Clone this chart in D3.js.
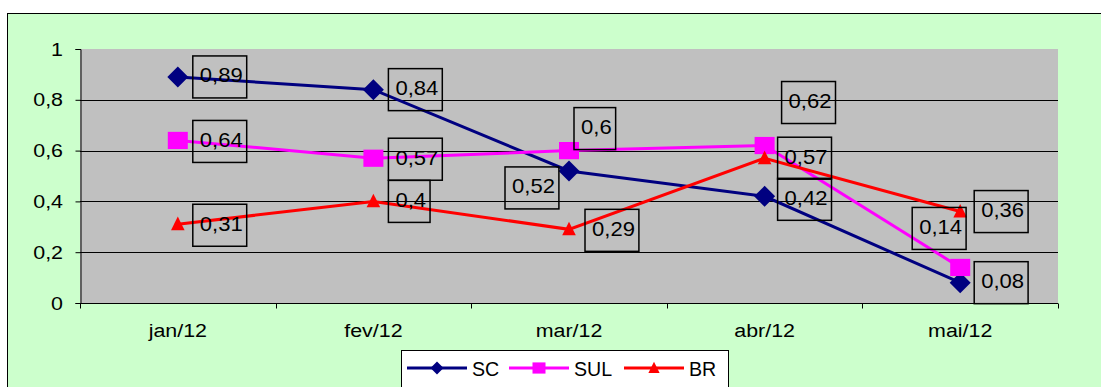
<!DOCTYPE html>
<html><head><meta charset="utf-8">
<script src="https://cdn.jsdelivr.net/npm/d3@7/dist/d3.min.js"></script>
<style>html,body{margin:0;padding:0;background:#fff;}svg{display:block;}</style>
</head><body>
<script>
const categories = ["jan/12","fev/12","mar/12","abr/12","mai/12"];
const scValues  = [0.89, 0.84, 0.52, 0.42, 0.08];
const sulValues = [0.64, 0.57, 0.60, 0.62, 0.14];
const brValues  = [0.31, 0.40, 0.29, 0.57, 0.36];
const yTicks = [0, 0.2, 0.4, 0.6, 0.8, 1];
const seriesNames = ["SC","SUL","BR"];
const seriesColors = ["#000080","#FF00FF","#FF0000"];
const seriesMarkers = ["diamond","square","triangle"];
// label box offsets relative to point: [dx (box left), dy (box center)]
const labelOffsets = [
  [[15,0],[15,0],[-64,17],[13,3],[14,0]],
  [[15,1],[15,1],[5,-22],[17,-43],[-48,-39]],
  [[15,1],[15,0],[16,1],[13,0],[14,0]]
];

const W = 1101, H = 387;
const svg = d3.select("body").append("svg").attr("width", W).attr("height", H);
svg.append("rect").attr("x",7.5).attr("y",13.5).attr("width",W+20).attr("height",H+20)
  .attr("fill","#CCFFCC").attr("stroke","#000").attr("stroke-width",1);

const plot = {l:80, r:1058, t:49, b:303};
const x = d3.scaleBand().domain(categories).range([plot.l, plot.r]);
const y = d3.scaleLinear().domain([0,1]).range([plot.b, plot.t]);
const font = "'Liberation Sans', Arial, sans-serif";

function sText(g, str, tx, ty, size, sx, anchor){
  return g.append("text").text(str)
    .attr("transform", `translate(${tx},${ty}) scale(${sx},1)`)
    .attr("font-family", font).attr("font-size", size)
    .attr("text-anchor", anchor||"start").attr("fill","#000");
}

svg.append("rect").attr("x",plot.l).attr("y",plot.t).attr("width",plot.r-plot.l).attr("height",plot.b-plot.t).attr("fill","#C0C0C0");

// gridlines
svg.append("g").selectAll("line").data(yTicks.filter(v=>v>0 && v<1)).join("line")
  .attr("x1",plot.l).attr("x2",plot.r).attr("y1",d=>Math.round(y(d))+0.5).attr("y2",d=>Math.round(y(d))+0.5)
  .attr("stroke","#000").attr("stroke-width",1);

// y axis
const yAxis = svg.append("g").attr("transform",`translate(${plot.l+0.5},0)`)
  .call(d3.axisLeft(y).tickValues(yTicks).tickSize(5).tickFormat(()=>""));
yAxis.select(".domain").attr("stroke","#000");
yAxis.selectAll(".tick line").attr("stroke","#000");
yTicks.forEach(v=>{
  sText(svg, d3.format(".1~f")(v).replace(".",","), 63, y(v)+6.5, 18, 1.19, "end");
});

// x axis
const xb = svg.append("g").attr("transform",`translate(0,${plot.b+0.5})`);
xb.append("line").attr("x1",plot.l).attr("x2",plot.r).attr("stroke","#000");
const bounds = categories.map(c=>x(c)).concat([plot.r]);
xb.selectAll("line.tk").data(bounds).join("line").attr("class","tk")
  .attr("x1",d=>Math.round(d)+0.5).attr("x2",d=>Math.round(d)+0.5).attr("y1",0).attr("y2",5).attr("stroke","#000");
categories.forEach(c=>{
  sText(svg, c, x(c)+x.bandwidth()/2, 337, 18, 1.19, "middle");
});

const allValues = [scValues, sulValues, brValues];

function marker(g, type, cx, cy, s, color){
  if(type==="diamond"){
    g.append("path").attr("d",`M${cx},${cy-s/2}L${cx+s/2},${cy}L${cx},${cy+s/2}L${cx-s/2},${cy}Z`).attr("fill",color);
  } else if(type==="square"){
    g.append("rect").attr("x",cx-s/2).attr("y",cy-s*0.43).attr("width",s).attr("height",s*0.86).attr("fill",color);
  } else {
    g.append("path").attr("d",`M${cx},${cy-s*0.45}L${cx+s*0.4},${cy+s*0.35}L${cx-s*0.4},${cy+s*0.35}Z`).attr("fill",color);
  }
}

const line = d3.line().x((d,i)=>x(categories[i])+x.bandwidth()/2).y(d=>y(d));
allValues.forEach((vals,si)=>{
  const g = svg.append("g");
  g.append("path").datum(vals).attr("d",line).attr("fill","none").attr("stroke",seriesColors[si]).attr("stroke-width",3);
  const sizes = [21,20,17];
  vals.forEach((v,i)=>marker(g, seriesMarkers[si], x(categories[i])+x.bandwidth()/2, y(v), sizes[si], seriesColors[si]));
});

// data labels
allValues.forEach((vals,si)=>{
  vals.forEach((v,i)=>{
    const px = x(categories[i])+x.bandwidth()/2, py = y(v);
    const [dx,dy] = labelOffsets[si][i];
    const g = svg.append("g");
    const t = sText(g, String(v).replace(".",","), 0, 0, 21, 1.05, "start");
    const tw = t.node().getComputedTextLength()*1.05;
    const bx = px+dx, bc = py+dy;
    t.attr("transform",`translate(${bx+7},${bc+5.5}) scale(1.05,1)`);
    g.insert("rect","text").attr("x",bx).attr("y",bc-21).attr("width",tw+11).attr("height",42)
      .attr("fill","none").attr("stroke","#000").attr("stroke-width",1.5);
  });
});

// legend
const lg = svg.append("g");
lg.append("rect").attr("x",401.5).attr("y",350.5).attr("width",327).attr("height",60).attr("fill","#fff").attr("stroke","#000");
const legX = [407, 509, 624];
seriesNames.forEach((n,si)=>{
  const lx = legX[si], ly = 368;
  lg.append("line").attr("x1",lx).attr("x2",lx+60).attr("y1",ly).attr("y2",ly).attr("stroke",seriesColors[si]).attr("stroke-width",3);
  marker(lg, seriesMarkers[si], lx+30, ly, [13,13,14][si], seriesColors[si]);
  sText(lg, n, lx+65, ly+7.5, 20, 0.98, "start");
});
</script>
</body></html>
